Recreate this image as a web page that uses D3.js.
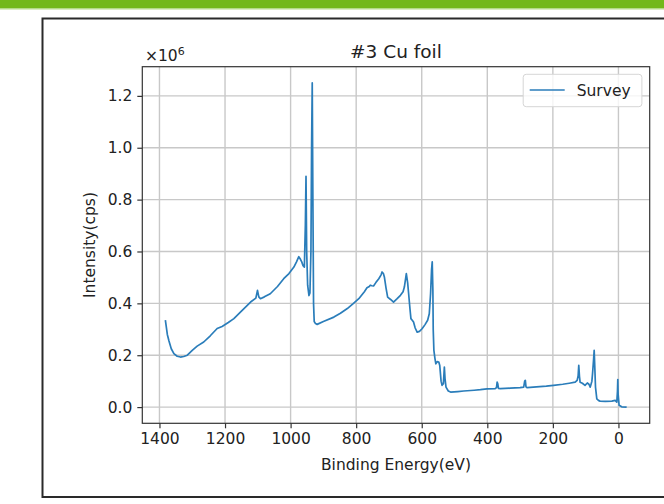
<!DOCTYPE html>
<html lang="en">
<head>
    <meta charset="UTF-8">
    <title>#3 Cu foil</title>
    <script src="https://d3js.org/d3.v7.min.js"></script>
    <style>
        body {
            margin: 0;
            background-color: #ffffff;
            font-family: 'DejaVu Sans', sans-serif;
        }
        .axis path, .axis line {
            stroke: #333;
            stroke-width: 1.2px;
        }
        .axis text {
            font-size: 15.5px;
            fill: #222;
            font-family: 'DejaVu Sans', sans-serif;
        }
        .grid line {
            stroke: #c8c8c8;
            stroke-width: 1.4px;
        }
    </style>
</head>
<body>
    <div id="my_dataviz"></div>
    <script>
        // Survey spectrum (binding energy in eV, intensity in cps)
        const energy = [
            1382, 1376, 1371, 1364, 1356, 1346, 1336, 1326, 1315, 1300,
            1285, 1265, 1245, 1224, 1209, 1190, 1173, 1150, 1122, 1106,
            1101, 1097, 1092, 1080, 1062, 1040, 1021, 1005, 990, 982,
            975, 970, 966, 962, 958, 955, 953, 951, 948, 944,
            941, 938, 936, 934, 932, 930, 928, 924, 919, 900,
            868, 848, 827, 810, 792, 775, 767, 760, 757, 752,
            747, 740, 731, 724, 721, 717, 714, 709, 704, 695,
            686, 675, 665, 657, 653, 647, 643, 640, 636, 633,
            629, 625, 620, 614, 607, 599, 590, 582, 577, 573,
            570, 568, 566, 565, 563, 560, 557, 553, 548, 545,
            541, 538, 534, 531, 529, 526, 519, 512, 490, 472,
            440, 421, 401, 376, 372, 370, 368, 366, 360, 330,
            300, 289, 286, 284, 282, 279, 250, 220, 198, 170,
            150, 132, 126, 123, 121, 119, 117, 110, 102, 95,
            90, 86, 81, 79, 76, 74, 72, 70, 66, 60,
            56, 40, 20, 10, 5, 3, 2, 1, -2, -10,
            -25
        ];
        const intensity = [
            335000, 280000, 255000, 225000, 206000, 196000, 193000, 195000, 200000, 219000,
            235000, 251000, 275000, 303000, 311000, 326000, 341000, 370000, 405000, 420000,
            450000, 425000, 418000, 425000, 437000, 465000, 495000, 515000, 540000, 560000,
            580000, 570000, 560000, 545000, 540000, 700000, 890000, 600000, 470000, 430000,
            440000, 600000, 1000000, 1250000, 800000, 400000, 330000, 322000, 319000, 330000,
            347000, 362000, 380000, 398000, 418000, 445000, 460000, 465000, 470000, 468000,
            467000, 480000, 495000, 510000, 521000, 515000, 502000, 460000, 424000, 415000,
            405000, 418000, 431000, 445000, 463000, 515000, 480000, 438000, 380000, 341000,
            335000, 328000, 305000, 289000, 292000, 302000, 318000, 335000, 360000, 438000,
            530000, 560000, 450000, 300000, 220000, 190000, 167000, 175000, 174000, 160000,
            100000, 84000, 90000, 154000, 110000, 77000, 62000, 58000, 60000, 62000,
            65000, 67000, 70000, 71000, 75000, 96000, 90000, 72000, 71000, 73000,
            75000, 77000, 100000, 103000, 78000, 75000, 78000, 81000, 84000, 88000,
            92000, 96000, 103000, 120000, 161000, 120000, 96000, 92000, 84000, 93000,
            88000, 77000, 100000, 129000, 180000, 219000, 150000, 77000, 32000, 25000,
            23000, 22000, 23000, 26000, 19000, 60000, 106000, 50000, 7000, 1000,
            0
        ];
        const xTicks = [1400, 1200, 1000, 800, 600, 400, 200, 0];
        const yTicks = [0, 200000, 400000, 600000, 800000, 1000000, 1200000];
        const seriesName = "Survey";
        const chartTitle = "#3 Cu foil";

        const data = energy.map((e, i) => ({ e: e, v: intensity[i] }));

        const W = 664, H = 504;
        const margin = {top: 66.7, right: 14.3, bottom: 80.7, left: 142.3},
            width = W - margin.left - margin.right,
            height = H - margin.top - margin.bottom;

        const root = d3.select("#my_dataviz")
            .append("svg")
            .attr("width", W)
            .attr("height", H);

        // green strip at the top of the page
        root.append("rect").attr("x", 0).attr("y", 0).attr("width", W).attr("height", 8)
            .attr("fill", "#72b81a");
        root.append("rect").attr("x", 0).attr("y", 8).attr("width", W).attr("height", 1.5)
            .attr("fill", "#b3da86");

        // frame round the figure
        root.append("rect")
            .attr("x", 42.5).attr("y", 18.5)
            .attr("width", 700).attr("height", 478.5)
            .attr("fill", "none")
            .attr("stroke", "#2a2a2a")
            .attr("stroke-width", 2);

        const svg = root.append("g")
            .attr("transform", `translate(${margin.left},${margin.top})`);

        // matplotlib style 5% margins
        const [eMin, eMax] = d3.extent(energy);
        const [vMin, vMax] = d3.extent(intensity);
        const ePad = (eMax - eMin) * 0.05, vPad = (vMax - vMin) * 0.05;

        const x = d3.scaleLinear()
            .domain([eMax + ePad, eMin - ePad])
            .range([0, width]);
        const y = d3.scaleLinear()
            .domain([vMin - vPad, vMax + vPad])
            .range([height, 0]);

        // grid
        svg.append("g").attr("class", "grid")
            .selectAll("line").data(xTicks).join("line")
            .attr("x1", d => x(d)).attr("x2", d => x(d))
            .attr("y1", 0).attr("y2", height);
        svg.append("g").attr("class", "grid")
            .selectAll("line").data(yTicks).join("line")
            .attr("x1", 0).attr("x2", width)
            .attr("y1", d => y(d)).attr("y2", d => y(d));

        // line
        const line = d3.line()
            .x(d => x(d.e))
            .y(d => y(d.v));

        svg.append("path")
            .datum(data)
            .attr("d", line)
            .attr("fill", "none")
            .attr("stroke", "#2a7dba")
            .attr("stroke-width", 1.7)
            .attr("stroke-linejoin", "round");

        // axes
        svg.append("g")
            .attr("class", "axis")
            .attr("transform", `translate(0,${height})`)
            .call(d3.axisBottom(x).tickValues(xTicks).tickSize(5).tickPadding(5)
                .tickFormat(d3.format("d")))
            .call(g => g.select(".domain").remove());

        svg.append("g")
            .attr("class", "axis")
            .call(d3.axisLeft(y).tickValues(yTicks).tickSize(5).tickPadding(5)
                .tickFormat(d => (d / 1e6).toFixed(1)))
            .call(g => g.select(".domain").remove());

        svg.append("rect")
            .attr("width", width).attr("height", height)
            .attr("fill", "none")
            .attr("stroke", "#333")
            .attr("stroke-width", 1.2);

        // offset text, title and labels
        const offText = svg.append("text")
            .attr("x", 2.7).attr("y", -5.7)
            .style("font-size", "15.5px").style("fill", "#222");
        offText.append("tspan").text("\u00d710");
        offText.append("tspan").attr("dy", -6).style("font-size", "11px").text("6");

        svg.append("text")
            .attr("x", width / 2).attr("y", -9)
            .attr("text-anchor", "middle")
            .style("font-size", "18.5px").style("fill", "#222")
            .text(chartTitle);

        svg.append("text")
            .attr("x", width / 2).attr("y", height + 47)
            .attr("text-anchor", "middle")
            .style("font-size", "15.5px").style("fill", "#222")
            .text("Binding Energy(eV)");

        svg.append("text")
            .attr("transform", `translate(${-47},${height / 2}) rotate(-90)`)
            .attr("text-anchor", "middle")
            .style("font-size", "15.5px").style("fill", "#222")
            .text("Intensity(cps)");

        // legend
        const legend = svg.append("g")
            .attr("transform", `translate(${width - 126.5},${7.6})`);
        legend.append("rect")
            .attr("width", 118.7).attr("height", 32.4)
            .attr("rx", 3)
            .attr("fill", "rgba(255,255,255,0.8)")
            .attr("stroke", "#d6d6d6");
        legend.append("line")
            .attr("x1", 6.5).attr("x2", 41.5)
            .attr("y1", 15.7).attr("y2", 15.7)
            .attr("stroke", "#2a7dba")
            .attr("stroke-width", 1.7);
        legend.append("text")
            .attr("x", 53.5).attr("y", 21.3)
            .style("font-size", "15.5px").style("fill", "#222")
            .text(seriesName);
    </script>
</body>
</html>
